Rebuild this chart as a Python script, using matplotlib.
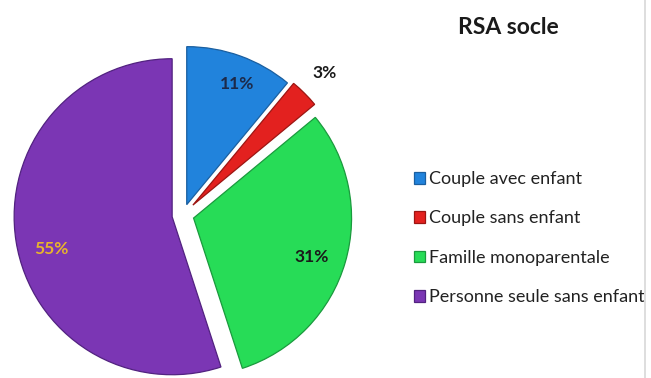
import matplotlib
matplotlib.use('Agg')
import matplotlib.pyplot as plt
from matplotlib.lines import Line2D
from matplotlib.transforms import Bbox, TransformedBbox
import numpy as np

plt.rcParams['font.family'] = ['Lato', 'DejaVu Sans']

categories = ['Couple avec enfant', 'Couple sans enfant',
              'Famille monoparentale', 'Personne seule sans enfant']
shares = [11, 3, 31, 55]

colors = ['#2183dc', '#e3211f', '#27dc57', '#7b36b4']
edges = ['#1a5fa0', '#9c1512', '#1a9a3d', '#522280']
label_colors = ['#1c2a4a', '#1a1a1a', '#1a1a1a', '#e8b42c']
label_dist = [0.83, 1.18, 0.79, 0.79]
label_turn = [-3, 0, -2, 6]      # degrees added to each label's mid-angle
explode_px = [11, 14, 11, 11]

W, H = 651, 378
fig = plt.figure(figsize=(W / 100, H / 100), dpi=100)
fig.patch.set_facecolor('white')
ax = fig.add_axes([0, 0, 1, 1])

R = 158
cx, cy = 183, H - 215
# explode is in data units here (pixels), not a fraction of the radius
wedges, _ = ax.pie(shares, colors=colors, startangle=90, counterclock=False,
                   radius=R, center=(cx, cy), explode=explode_px,
                   wedgeprops=dict(linewidth=0.9))
for w, ec in zip(wedges, edges):
    w.set_edgecolor(ec)

# pie() resets the limits, so pixel-based limits go after it
ax.set_xlim(0, W)
ax.set_ylim(0, H)
ax.set_aspect('equal')
ax.axis('off')

# percentage labels placed along each wedge's mid-angle
for w, v, c, d, t in zip(wedges, shares, label_colors, label_dist, label_turn):
    mid = np.deg2rad((w.theta1 + w.theta2) / 2 + t)
    x0, y0 = w.center
    ax.text(x0 + d * w.r * np.cos(mid), y0 + d * w.r * np.sin(mid), f'{v}%',
            ha='center', va='center', fontsize=12.5, fontweight='bold', color=c)

ax.text(508, H - 28, 'RSA socle', ha='center', va='center',
        fontsize=16.5, fontweight='bold', color='#1a1a1a')

leg = ax.legend(wedges, categories, loc='upper left',
                bbox_to_anchor=(405 / W, 1 - 162 / H), frameon=False,
                fontsize=13, handlelength=0.62, handleheight=0.62,
                handletextpad=0.22, labelspacing=1.3, borderpad=0,
                labelcolor='#222222')
# legend text runs into the right border and is cut there
clip = TransformedBbox(Bbox([[0, 0], [644 / W, 1]]), fig.transFigure)
for t in leg.get_texts():
    t.set_clip_box(clip)
    t.set_clip_on(True)

fig.add_artist(Line2D([645 / W, 645 / W], [0, 1], color='#d8d8d8', lw=1.2))

fig.savefig('out.png', dpi=100, facecolor='white')
plt.close(fig)
